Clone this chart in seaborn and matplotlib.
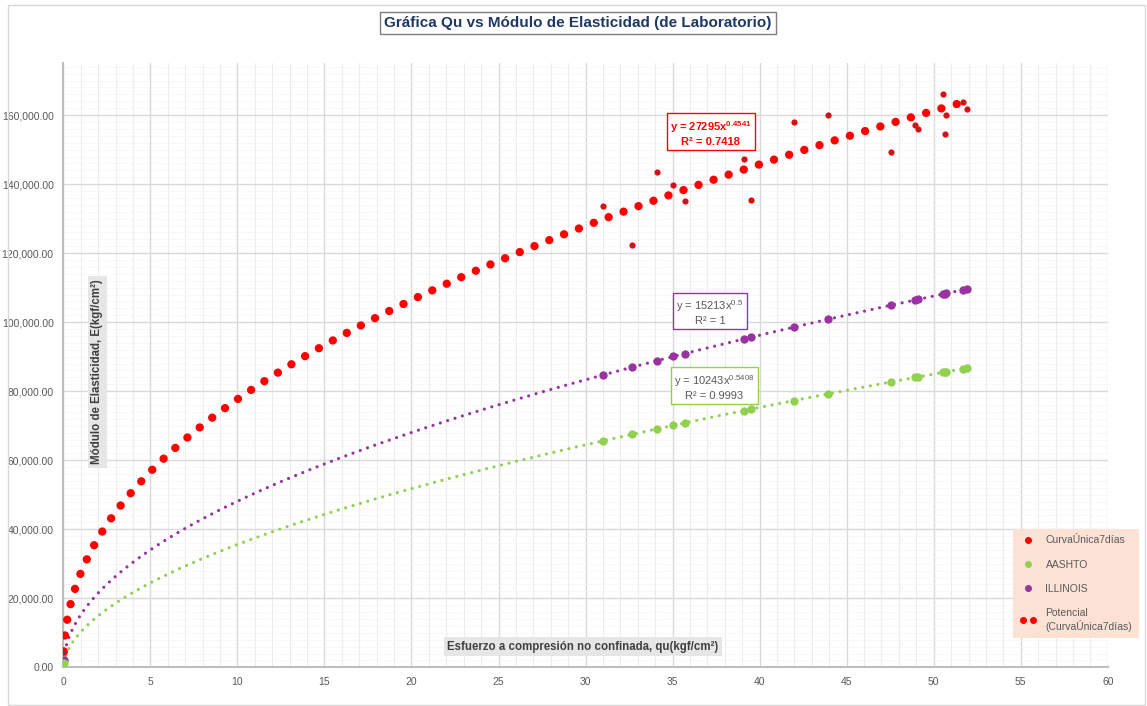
import numpy as np
import pandas as pd
import seaborn as sns
import matplotlib
matplotlib.use("Agg")
import matplotlib.pyplot as plt
from matplotlib.lines import Line2D
from matplotlib.legend_handler import HandlerLine2D
from matplotlib.ticker import MultipleLocator, FuncFormatter
from matplotlib.patches import Rectangle

# Unconfined compressive strength qu (kgf/cm2)
qu = [0.02, 31.0, 32.65, 34.1, 35.05, 35.7, 39.1, 39.5, 41.95, 43.9,
      47.55, 48.95, 49.1, 50.55, 50.7, 50.65, 51.7, 51.9]
# Laboratory modulus of elasticity, 7-day curve (kgf/cm2)
e_lab = [4500, 133800, 122400, 143400, 139800, 135200, 147300, 135400, 158000, 160000,
         149400, 157200, 156000, 166000, 160100, 154500, 163700, 161800]
# AASHTO correlation (kgf/cm2)
e_aashto = [1235, 65610, 67470, 69080, 70110, 70820, 74390, 74790, 77270, 79200,
            82690, 83990, 84140, 85470, 85600, 85560, 86510, 86700]
# ILLINOIS correlation (kgf/cm2)
e_illinois = [2151, 84700, 86930, 88840, 90070, 90900, 95130, 95610, 98530, 100800,
              104900, 106440, 106600, 108160, 108320, 108270, 109390, 109600]

# Power trendlines y = a * x^b and their R^2
fit_lab = (27295, 0.4541, "0.7418")
fit_illinois = (15213, 0.5, "1")
fit_aashto = (10243, 0.5408, "0.9993")

series_names = ["CurvaÚnica7días", "AASHTO", "ILLINOIS"]
trend_name = "Potencial\n(CurvaÚnica7días)"

RED = "#FF0000"
GREEN = "#92D050"
PURPLE = "#9933A0"
GRAY_TXT = "#595959"

sns.set_theme(style="white")
plt.rcParams["font.family"] = ["Liberation Sans Narrow", "Liberation Sans", "DejaVu Sans"]
plt.rcParams["mathtext.fontset"] = "custom"
plt.rcParams["mathtext.rm"] = "Liberation Sans"
plt.rcParams["mathtext.bf"] = "Liberation Sans:bold"

fig = plt.figure(figsize=(11.47, 7.06), dpi=100)
fig.patches.append(Rectangle((8 / 1147, 0.002), 1 - 8 / 1147 - 0.002, 1 - 5 / 706 - 0.002,
                             transform=fig.transFigure, fill=False,
                             edgecolor="#D9D9D9", lw=1.0))
ax = fig.add_axes([0.0552, 0.0548, 0.9106, 0.8555])

df = pd.DataFrame({"qu": qu, "lab": e_lab, "aashto": e_aashto, "illinois": e_illinois})

# dotted power trendlines over the data range
xs = np.geomspace(min(qu), max(qu), 4000)
for (a, b, _), col, lw, gap in [(fit_illinois, PURPLE, 2.3, 2.4),
                                (fit_aashto, GREEN, 2.3, 2.4),
                                (fit_lab, RED, 6.0, 1.9)]:
    sns.lineplot(x=xs, y=a * xs ** b, ax=ax, color=col, lw=lw, sort=False,
                 linestyle=(0, (0.01, gap)), dash_capstyle="round", zorder=3)

# data points
sns.scatterplot(data=df, x="qu", y="illinois", ax=ax, color=PURPLE, s=36,
                linewidth=0, zorder=4)
sns.scatterplot(data=df, x="qu", y="aashto", ax=ax, color=GREEN, s=36,
                linewidth=0, zorder=4)
sns.scatterplot(data=df, x="qu", y="lab", ax=ax, color=RED, s=20,
                linewidth=0, zorder=5)
sns.scatterplot(data=df, x="qu", y="lab", ax=ax, color="#3B4C7A", s=3,
                linewidth=0, zorder=6)

ax.set_xlim(0, 60)
ax.set_ylim(0, 175000)
ax.xaxis.set_major_locator(MultipleLocator(5))
ax.xaxis.set_minor_locator(MultipleLocator(1))
ax.yaxis.set_major_locator(MultipleLocator(20000))
ax.yaxis.set_minor_locator(MultipleLocator(2000))
ax.yaxis.set_major_formatter(FuncFormatter(lambda v, p: f"{v:,.2f}"))
ax.grid(which="major", color="#D9D9D9", lw=1.0)
ax.grid(which="minor", axis="x", color="#EDEDED", lw=0.8)
ax.grid(which="minor", axis="y", color="#EEEEEE", lw=0.7, linestyle=(0, (1, 1.5)))
ax.set_axisbelow(True)
for side in ["top", "right"]:
    ax.spines[side].set_visible(False)
for side in ["left", "bottom"]:
    ax.spines[side].set_color("#BFBFBF")
    ax.spines[side].set_linewidth(1.5)
ax.tick_params(axis="both", which="both", length=0, labelsize=7.5, colors=GRAY_TXT)
ax.tick_params(axis="x", pad=7)
ax.tick_params(axis="y", pad=7)
ax.set_xlabel("")
ax.set_ylabel("")

# axis titles placed inside the plot area
ax.text(29.85, 5900, "Esfuerzo a compresión no confinada, qu(kgf/cm²)",
        ha="center", va="center", fontsize=8.3, fontweight="bold", color="#404040",
        bbox=dict(boxstyle="square,pad=0.3", facecolor="#E6E6E6", edgecolor="none"),
        zorder=7)
ax.text(1.95, 85600, "Módulo de Elasticidad, E(kgf/cm²)", rotation=90,
        ha="center", va="center", fontsize=8.3, fontweight="bold", color="#404040",
        bbox=dict(boxstyle="square,pad=0.3", facecolor="#E6E6E6", edgecolor="none"),
        zorder=7)

# trendline equations
ax.text(37.2, 154900,
        f"y = {fit_lab[0]}x" + r"$^{\mathbf{" + f"{fit_lab[1]}" + "}}$" + f"\nR² = {fit_lab[2]}",
        ha="center", va="center", multialignment="center", fontsize=8,
        fontweight="bold", color=RED, linespacing=1.25,
        bbox=dict(boxstyle="square,pad=0.3", facecolor="white", edgecolor=RED, lw=1.0),
        zorder=8)
ax.text(37.15, 103000,
        f"y = {fit_illinois[0]}x" + r"$^{" + f"{fit_illinois[1]}" + "}$" + f"\nR² = {fit_illinois[2]}",
        ha="center", va="center", multialignment="center", fontsize=8,
        color=GRAY_TXT, linespacing=1.25,
        bbox=dict(boxstyle="square,pad=0.3", facecolor="white", edgecolor=PURPLE, lw=1.0),
        zorder=8)
ax.text(37.4, 81300,
        f"y = {fit_aashto[0]}x" + r"$^{" + f"{fit_aashto[1]}" + "}$" + f"\nR² = {fit_aashto[2]}",
        ha="center", va="center", multialignment="center", fontsize=8,
        color=GRAY_TXT, linespacing=1.25,
        bbox=dict(boxstyle="square,pad=0.3", facecolor="white", edgecolor=GREEN, lw=1.0),
        zorder=8)

# title
fig.text(578 / 1147, 1 - 23 / 706, "Gráfica Qu vs Módulo de Elasticidad (de Laboratorio)",
         ha="center", va="center", fontsize=11, fontweight="bold", color="#1F3864",
         bbox=dict(boxstyle="square,pad=0.25", facecolor="white", edgecolor="#7F7F7F", lw=1.0))

# legend
handles = [
    Line2D([0], [0], marker="o", linestyle="none", color=RED, markersize=4),
    Line2D([0], [0], marker="o", linestyle="none", color=GREEN, markersize=4),
    Line2D([0], [0], marker="o", linestyle="none", color=PURPLE, markersize=4),
]
trend_handle = Line2D([0], [0], marker="o", linestyle="none", color=RED, markersize=4)
handles.append(trend_handle)
leg = fig.legend(handles, series_names + [trend_name], loc="upper left",
                 bbox_to_anchor=(1008 / 1147, 1 - 524 / 706), frameon=True,
                 fontsize=7.5, labelspacing=1.35, handlelength=1.6, handletextpad=0.9,
                 borderpad=0.6, labelcolor=GRAY_TXT,
                 handler_map={trend_handle: HandlerLine2D(numpoints=2)})
frame = leg.get_frame()
frame.set_facecolor("#FBE2D5")
frame.set_edgecolor("none")
frame.set_alpha(1)
frame.set_boxstyle("square,pad=0")

fig.savefig("out.png", dpi=100)
